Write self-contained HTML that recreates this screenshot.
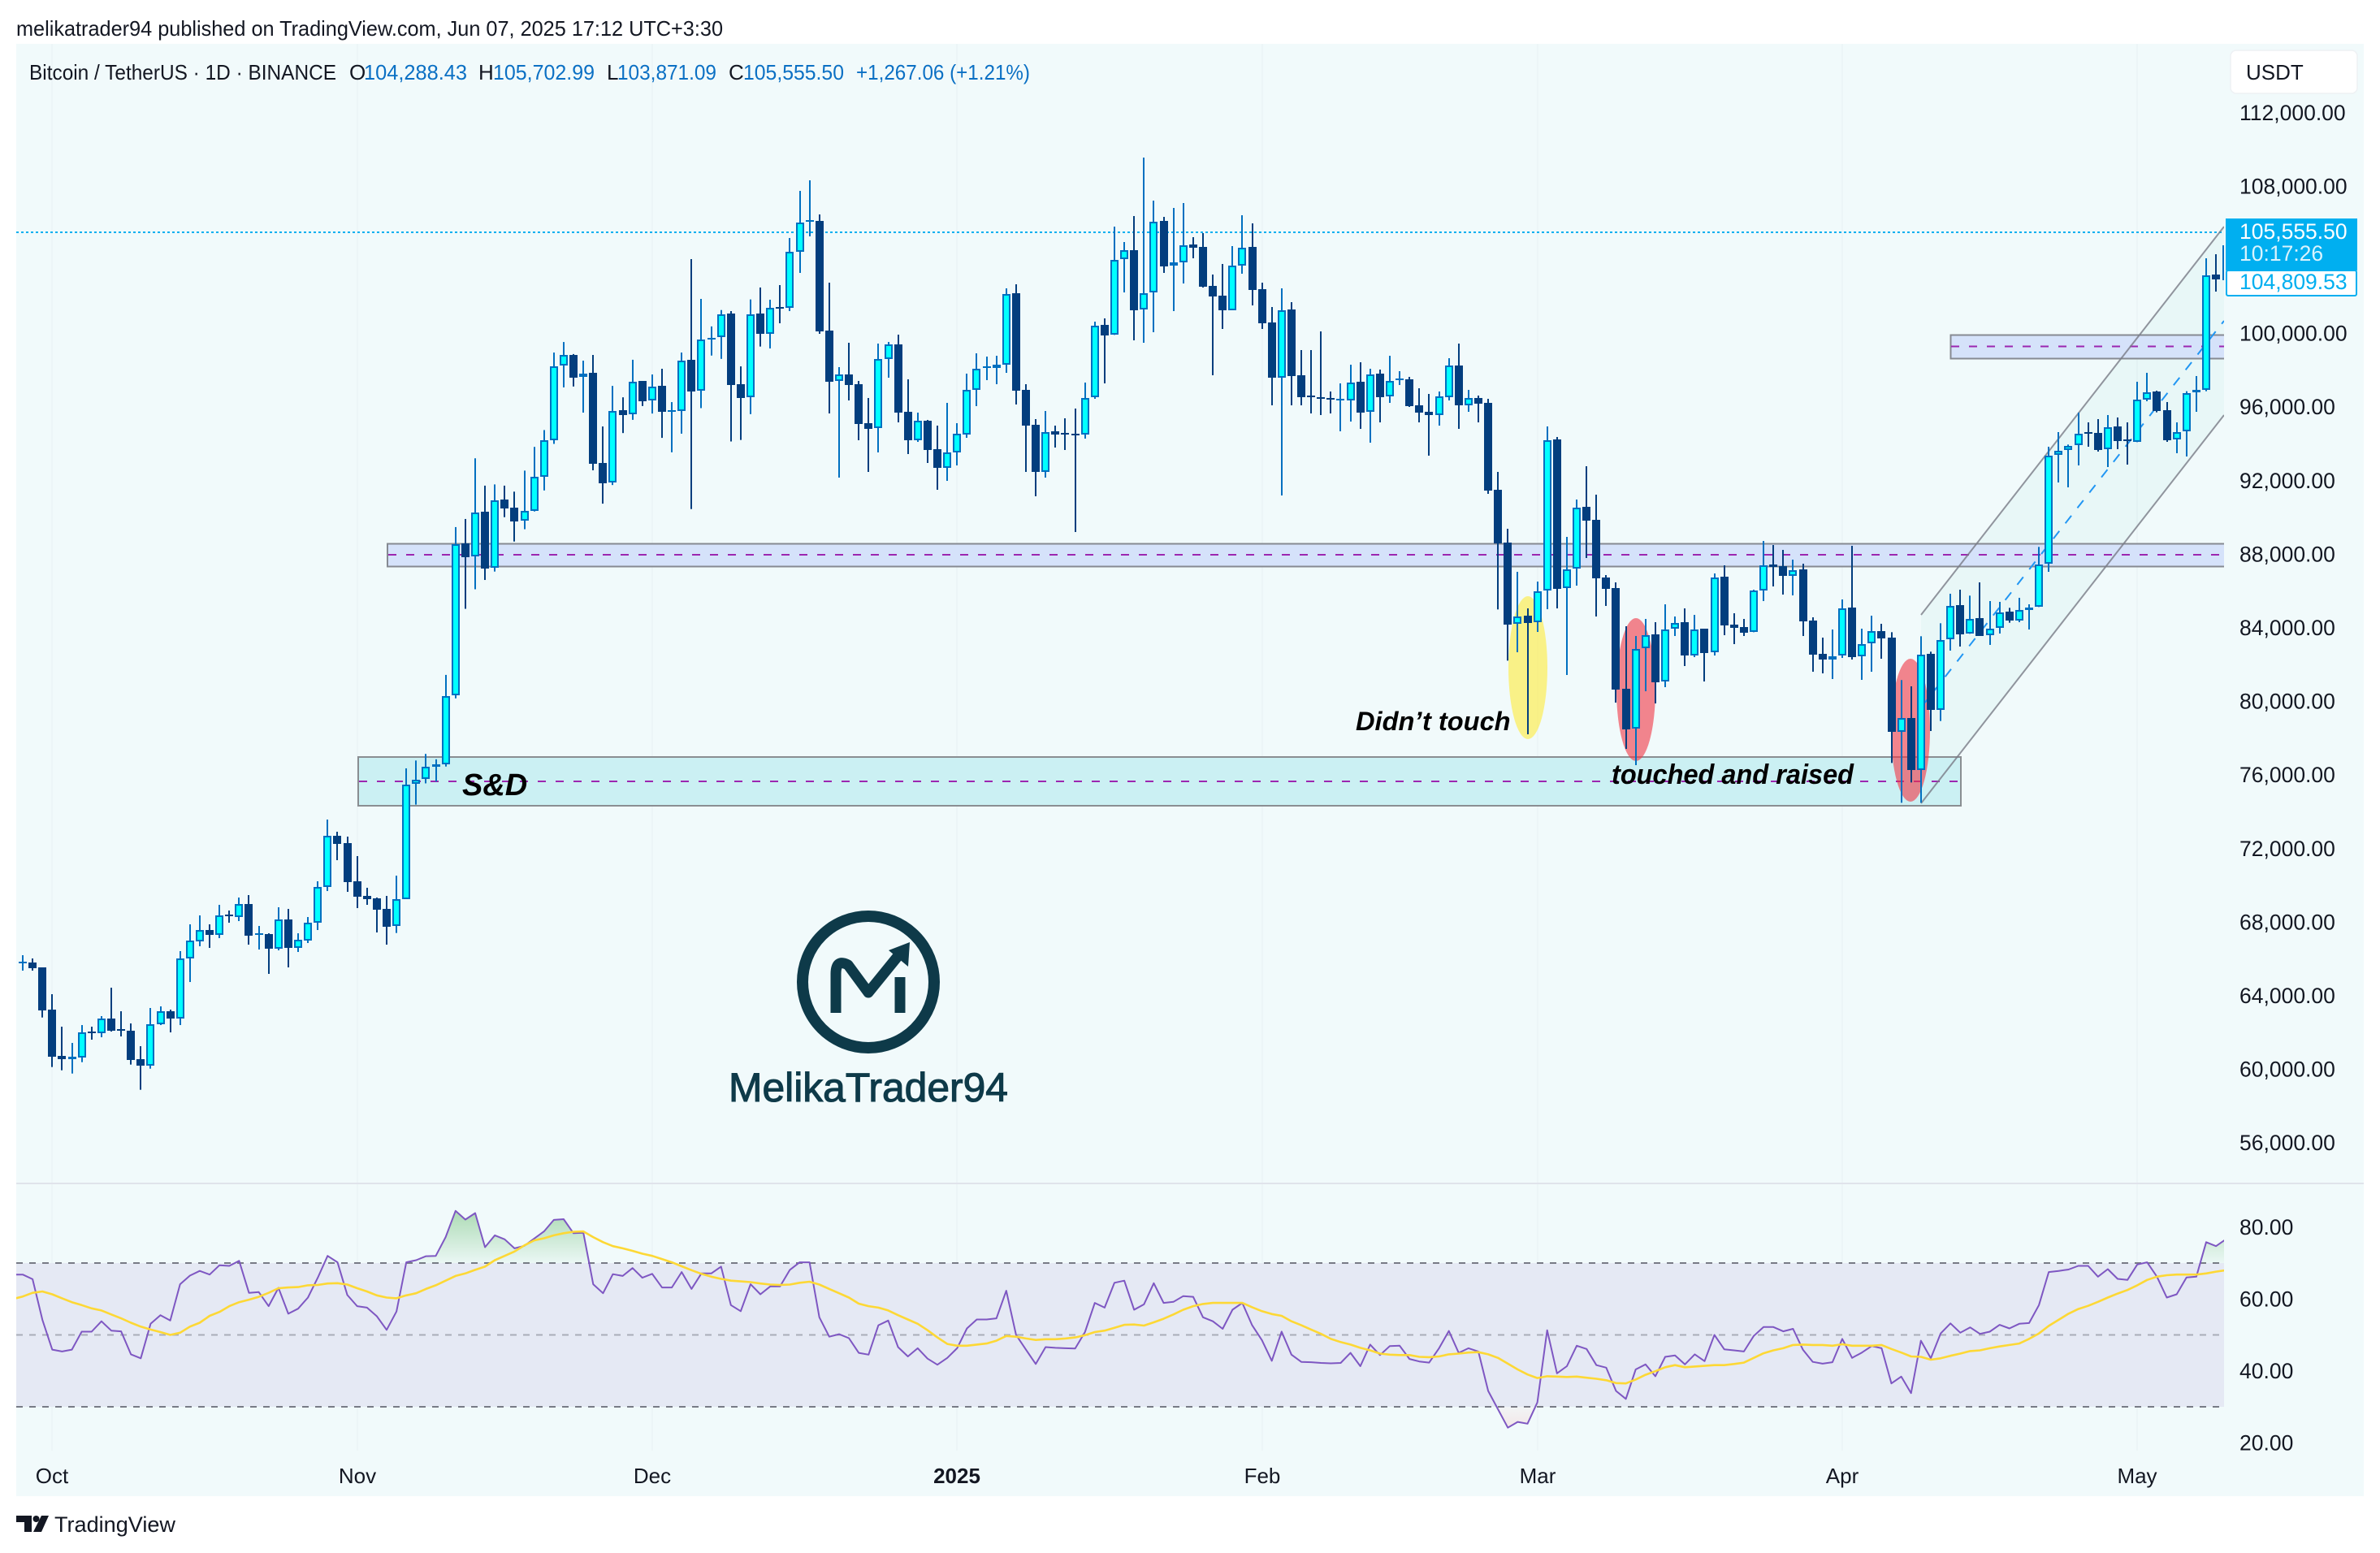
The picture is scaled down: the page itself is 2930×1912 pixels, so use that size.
<!DOCTYPE html>
<html lang="en">
<head>
<meta charset="utf-8">
<title>BTC/USDT 1D chart</title>
<style>
html,body{margin:0;padding:0;background:#fff;width:2930px;height:1912px;overflow:hidden}
svg{display:block;font-family:"Liberation Sans",Arial,sans-serif}
</style>
</head>
<body>
<svg id="chart" xmlns="http://www.w3.org/2000/svg" width="2930" height="1912" viewBox="0 0 2930 1912">
  <defs>
    <clipPath id="mainClip"><rect x="20" y="54" width="2718" height="1403"/></clipPath>
    <clipPath id="rsiClip"><rect x="20" y="1458" width="2718" height="330"/></clipPath>
    <clipPath id="obClip"><rect x="20" y="1458" width="2718" height="97"/></clipPath>
    <clipPath id="osClip"><rect x="20" y="1732" width="2718" height="56"/></clipPath>
    <linearGradient id="obGrad" gradientUnits="userSpaceOnUse" x1="0" y1="1490" x2="0" y2="1555">
      <stop offset="0" stop-color="#4caf50" stop-opacity="0.42"/>
      <stop offset="1" stop-color="#4caf50" stop-opacity="0.04"/>
    </linearGradient>
    <linearGradient id="osGrad" gradientUnits="userSpaceOnUse" x1="0" y1="1732" x2="0" y2="1770">
      <stop offset="0" stop-color="#ff5252" stop-opacity="0.03"/>
      <stop offset="1" stop-color="#ff5252" stop-opacity="0.16"/>
    </linearGradient>
  </defs>

  <text x="20" y="44" font-size="26" fill="#131722" textLength="870" lengthAdjust="spacingAndGlyphs">melikatrader94 published on TradingView.com, Jun 07, 2025 17:12 UTC+3:30</text>

  <rect x="20" y="54" width="2890" height="1788" fill="#f1fafb"/>
  <g id="grid"></g>
  <rect x="20" y="1456" width="2890" height="2" fill="#e0e3eb"/>

  <!-- Main pane drawings -->
  <g clip-path="url(#mainClip)">
    <polygon points="2365,757 2738,279 2738,511 2365,989" fill="#00b496" fill-opacity="0.035"/>

    <rect x="441" y="932" width="1973" height="60" fill="#cbf0f3" stroke="#8a8e92" stroke-width="2"/>
    <line x1="442" y1="962" x2="2412" y2="962" stroke="#9c27b0" stroke-width="2" stroke-dasharray="10 12"/>

    <rect x="477" y="669.5" width="2262" height="28" fill="#d5e2fa" stroke="#868a92" stroke-width="2"/>
    <line x1="478" y1="683" x2="2738" y2="683" stroke="#9c27b0" stroke-width="2" stroke-dasharray="10 12"/>

    <rect x="2401.5" y="412.5" width="338" height="29" fill="#d5e2fa" stroke="#868a92" stroke-width="2"/>
    <line x1="2402" y1="426.5" x2="2738" y2="426.5" stroke="#9c27b0" stroke-width="2" stroke-dasharray="10 12"/>

    <line x1="20" y1="286" x2="2738" y2="286" stroke="#00b0f0" stroke-width="2" stroke-dasharray="3 3"/>

    <ellipse cx="1881" cy="822" rx="24" ry="88" fill="#ffeb3b" fill-opacity="0.6"/>
    <ellipse cx="2014" cy="849" rx="24" ry="88" fill="#f23645" fill-opacity="0.6"/>
    <ellipse cx="2352" cy="899" rx="24" ry="88" fill="#f23645" fill-opacity="0.6"/>

    <line x1="2365" y1="757" x2="2738" y2="279" stroke="#787b86" stroke-opacity="0.8" stroke-width="2"/>
    <line x1="2365" y1="989" x2="2738" y2="511" stroke="#787b86" stroke-opacity="0.8" stroke-width="2"/>
    <line x1="2365" y1="871" x2="2738" y2="395" stroke="#2196f3" stroke-width="2" stroke-dasharray="12 12"/>

    <g id="candles"></g>

    <g fill="none" stroke="#0e3a49" stroke-linecap="butt">
      <circle cx="1069" cy="1209" r="81" stroke-width="14"/>
      <path d="M1029 1247 L1029 1199 Q1029 1180 1044 1188 L1069 1222 L1108 1174" stroke-width="13" stroke-linejoin="round"/>
      <path d="M1108 1203 L1108 1247" stroke-width="13"/>
    </g>
    <polygon points="1120,1160 1118,1190 1094,1170" fill="#0e3a49"/>
    <text x="1069" y="1356" font-size="50" fill="#0e3a49" stroke="#0e3a49" stroke-width="1.1" text-anchor="middle" textLength="344" lengthAdjust="spacingAndGlyphs">MelikaTrader94</text>

    <text x="569" y="979" font-size="38" font-weight="bold" font-style="italic" fill="#000">S&amp;D</text>
    <text x="1669" y="899" font-size="32.6" font-weight="bold" font-style="italic" fill="#000">Didn’t touch</text>
    <text x="1984" y="965" font-size="34" font-weight="bold" font-style="italic" fill="#000" textLength="298" lengthAdjust="spacingAndGlyphs">touched and raised</text>
  </g>

  <!-- RSI pane -->
  <g id="rsiPane">
    <rect x="20" y="1555" width="2718" height="177" fill="#e5e9f4"/>
    <line x1="20" y1="1555" x2="2738" y2="1555" stroke="#787b86" stroke-width="2" stroke-dasharray="8 8"/>
    <line x1="20" y1="1643.5" x2="2738" y2="1643.5" stroke="#a9adb8" stroke-width="2" stroke-dasharray="8 8"/>
    <line x1="20" y1="1732" x2="2738" y2="1732" stroke="#787b86" stroke-width="2" stroke-dasharray="8 8"/>
  </g>

  <!-- Legend -->
  <g font-size="26">
    <text x="36" y="98" fill="#131722" textLength="378" lengthAdjust="spacingAndGlyphs">Bitcoin / TetherUS · 1D · BINANCE</text>
    <text x="430" y="98" fill="#131722">O</text>
    <text x="448" y="98" fill="#0b70c4" textLength="127" lengthAdjust="spacingAndGlyphs">104,288.43</text>
    <text x="589" y="98" fill="#131722">H</text>
    <text x="607" y="98" fill="#0b70c4" textLength="125" lengthAdjust="spacingAndGlyphs">105,702.99</text>
    <text x="747" y="98" fill="#131722">L</text>
    <text x="760" y="98" fill="#0b70c4" textLength="122" lengthAdjust="spacingAndGlyphs">103,871.09</text>
    <text x="897" y="98" fill="#131722">C</text>
    <text x="915" y="98" fill="#0b70c4" textLength="124" lengthAdjust="spacingAndGlyphs">105,555.50</text>
    <text x="1054" y="98" fill="#0b70c4" textLength="214" lengthAdjust="spacingAndGlyphs">+1,267.06 (+1.21%)</text>
  </g>

  <!-- Right axis -->
  <g id="yAxis" font-size="26.5" fill="#131722"></g>
  <g>
    <rect x="2746" y="62" width="156" height="53" rx="7" fill="#fff" stroke="#eef1f4" stroke-width="1.5"/>
    <text x="2765" y="98" font-size="26" fill="#131722">USDT</text>
  </g>
  <rect x="2740" y="269" width="162" height="64" fill="#00aff0"/>
  <text x="2757" y="294" font-size="26.5" fill="#fff">105,555.50</text>
  <text x="2757" y="321" font-size="26.5" fill="#d9f3fd">10:17:26</text>
  <rect x="2741" y="333" width="160" height="31" rx="2" fill="#fff" stroke="#00aff0" stroke-width="2"/>
  <text x="2757" y="356" font-size="26.5" fill="#00aff0">104,809.53</text>

  <g id="xAxis" font-size="26" fill="#131722"></g>

  <g fill="#131722">
    <path d="M20 1866h19v20h-9v-12h-10z"/>
    <circle cx="44.5" cy="1870" r="4"/>
    <path d="M51 1866h9l-9 20h-10z"/>
    <text x="67" y="1886" font-size="27" textLength="149" lengthAdjust="spacingAndGlyphs">TradingView</text>
  </g>
</svg>

<script>
const priceTicks = [112000,108000,104000,100000,96000,92000,88000,84000,80000,76000,72000,68000,64000,60000,56000];
const rsiTicks = [80,60,40,20];
const monthLabels = ["Oct","Nov","Dec","2025","Feb","Mar","Apr","May"];
const monthBarIndex = [3,34,64,95,126,154,185,215];
const opens = [65830,65858,65593,63297,60781,60619,60707,62105,62032,62811,
62238,62149,60604,60266,62517,63209,62826,66064,67021,67624,
67374,68463,68345,69037,67374,67403,66623,68198,66667,67065,
68007,69949,72746,72348,70273,69478,69346,68772,67838,69316,
75564,75825,76511,76641,80381,88644,87925,90359,87321,91028,
90587,89869,90424,92269,94262,98295,98883,97675,97903,93004,
91943,95862,95650,97462,96401,97185,95829,95829,98622,96923,
99748,99854,101135,97299,96580,101135,100016,101488,101429,104475,
106153,106168,100207,97455,97823,97293,95174,94895,98647,99457,
95792,94262,95306,93761,92761,93570,94571,96969,98206,98191,
98338,102238,96984,95086,92540,94733,94644,94600,94556,96572,
100516,99972,104078,104578,101340,102268,106168,103725,103901,104887,
104755,102635,102106,101326,103725,104755,102459,100649,97661,101355,
97779,96675,96587,96543,96425,96425,97426,95777,97867,96616,
97544,97558,96145,95792,95630,96601,98309,96160,96543,96278,
91554,88670,84254,84695,84357,86064,94291,86196,87256,90626,
89920,86785,86211,80736,78558,82929,83695,81119,83989,84357,
82561,84004,82708,86829,84224,84092,83812,86064,87477,87403,
86888,87227,84445,82635,82341,82532,85151,82488,83194,83871,
83519,78412,79133,76308,82621,79575,83416,85270,83725,84564,
83636,84034,84917,84460,85034,85182,87522,93438,93703,93968,
94674,94630,93747,94983,94292,94144,96470,96897,95866,94292,
94733,96838,96999,103239];
const highs = [66255,66079,65593,64136,62370,61487,62458,62370,62944,64489,
63209,62547,61310,63386,63474,63297,66476,67933,68419,67933,
68993,68684,69390,69523,67845,67447,68860,68772,67447,68330,
70273,73629,72966,72701,71642,69920,69390,69478,70578,76412,
76838,77197,76903,81492,89526,89967,93265,91779,91845,91779,
91453,92596,93886,94800,99014,99585,98932,98573,98883,94996,
97201,96580,98622,97462,97822,98132,96319,99014,104093,101930,
100434,101324,101267,98262,101900,102550,101885,102680,105240,107801,
108375,106521,102812,98221,99545,97470,96543,99501,99589,99987,
97558,95748,95351,95042,96278,95174,97867,98971,98794,98839,
102503,102724,97293,95395,95836,95042,95439,95969,97382,100693,
100870,105859,105020,106433,109611,107271,106388,106874,107139,105285,
105505,103254,103828,104799,106477,106035,102812,101488,102503,101752,
99148,99148,100163,96896,97337,98353,98485,98132,98088,98838,
98000,97691,97072,96763,96896,98706,99501,96984,96675,96499,
92525,89435,87094,85107,86564,94997,94423,88993,91024,92834,
91289,86918,86520,84136,83606,84533,84357,85328,84666,85107,
84754,84004,87006,87447,84842,84533,86123,88772,88551,88286,
87757,87536,84622,83518,83959,85593,88507,84004,84710,84269,
83813,81209,80870,83593,82754,84299,85903,86124,85800,86521,
85505,85461,85137,85682,85329,88449,93894,94689,94012,95749,
95219,95395,95616,95484,95219,97426,97912,96941,96323,95219,
96911,97736,104137,104358];
const lows = [65417,65417,62870,60177,60000,59824,60442,61664,61796,62105,
61840,60310,58941,60089,62458,62061,62458,64798,66741,66653,
67183,68021,68110,66829,66565,65240,66520,65593,66432,66918,
67624,69743,71421,69699,68816,68993,67492,66829,67464,69316,
74441,75596,75694,76511,80217,85084,86146,86652,87109,90065,
88742,89411,90375,91518,94049,97119,97168,95748,92612,90800,
91812,94637,95356,96107,95699,94376,93592,94604,90506,95993,
98850,98670,94180,94262,95666,99340,99236,100605,101267,103342,
105329,100031,95704,92216,96410,94247,92525,93585,97647,95218,
93496,94158,93011,91554,92039,92878,94379,96101,97514,97293,
97911,96190,92525,91201,92216,93850,93717,89258,94335,96499,
97337,99972,102282,99677,99545,100119,103342,101267,102768,104137,
102547,97779,100296,101326,103298,101576,100296,96145,91245,96145,
96145,95704,95616,95704,94733,95262,94865,94114,95218,96278,
97249,96057,95218,93408,95041,96410,94865,95792,95218,91333,
85050,82268,82723,78264,83827,85063,85107,81487,86344,87845,
84666,85240,79986,77469,76586,80604,79941,80825,83606,81973,
82458,81134,82546,83650,83165,83606,83812,85505,86300,85858,
85814,83606,81663,81575,81267,82414,82326,81222,81663,82370,
76705,74542,75646,74542,78442,78986,82812,83033,83725,83622,
83122,83740,84328,84357,83960,85182,87095,91951,91687,92879,
93894,93630,92790,93762,92923,94144,96367,95763,94159,93541,
93364,95793,96911,102327];
const closes = [65890,65564,63268,60751,60619,60736,62046,62032,62797,62149,
62164,60575,60266,62517,63194,62826,66064,67035,67609,67359,
68404,68389,69022,67330,67447,66609,68183,66667,67080,68007,
69949,72731,72304,70229,69434,69302,68728,67801,69316,75525,
75809,76478,76641,80348,88595,87909,90326,87288,90996,90555,
89852,90424,92269,94262,98279,98867,97642,97871,92972,91926,
95846,95633,97430,96384,97168,95813,95862,98589,96907,99732,
99830,101108,97266,96548,101108,100010,101429,101399,104475,106065,
106197,100163,97426,97808,97249,95130,94865,98647,99442,95748,
94247,95292,93717,92746,93570,94585,96969,98147,98250,98353,
102209,96940,95042,92525,94703,94571,94571,94541,96558,100487,
99957,104063,104564,101311,102253,106138,103710,103901,104858,104711,
102591,102062,101311,103725,104725,102415,100605,97646,101326,97735,
96587,96601,96499,96469,96484,97396,95748,97838,96587,97485,
97602,96101,95748,95615,96616,98294,96145,96528,96234,91510,
88640,84226,84681,84313,86049,94261,86167,87241,90597,89890,
86741,86167,80692,78529,82915,83665,81090,83974,84327,82546,
83974,82679,86800,84180,84048,83783,86064,87462,87374,86873,
87197,84401,82591,82326,82517,85122,82458,83180,83856,83474,
78412,79133,76308,82607,79575,83401,85256,83710,84549,83622,
84019,84902,84446,85034,85167,87507,93425,93688,93953,94615,
94601,93703,94954,94203,94218,96470,96867,95837,94248,94703,
96823,96999,103210,102974];
const currentBarHigh = 104844;
const currentBarLow = 102945;
const rsiValues = [66.8,65.5,54.2,45.9,45.4,45.9,50.9,50.9,53.8,51.2,
51.0,44.6,43.5,53.1,55.5,54.0,64.1,66.5,67.8,66.8,
69.4,69.2,70.6,61.7,61.9,58.0,63.1,55.9,57.3,60.4,
65.9,72.0,70.2,61.1,58.0,57.6,55.2,51.4,56.5,70.2,
70.8,71.9,72.0,77.2,84.5,82.1,83.9,74.4,77.7,76.6,
74.1,74.8,76.8,78.8,82.0,82.2,78.3,78.4,64.1,61.6,
66.9,66.4,68.6,65.9,67.0,63.2,63.2,67.5,62.8,67.1,
67.1,69.0,58.3,56.6,64.1,61.3,63.5,63.5,68.1,70.2,
70.2,54.9,49.5,50.2,49.1,45.0,44.5,52.7,54.0,46.6,
44.0,46.3,43.4,41.7,43.6,46.3,51.8,54.3,54.3,54.6,
62.3,50.0,45.9,41.9,46.6,46.4,46.3,46.2,50.8,58.9,
57.6,64.5,65.1,57.0,58.5,64.4,58.9,59.2,60.8,60.6,
54.9,53.8,51.7,57.0,58.9,52.7,48.5,42.8,50.9,44.5,
42.5,42.4,42.2,42.1,42.2,45.0,41.3,47.3,44.4,46.9,
47.0,43.3,42.6,42.3,46.3,51.1,45.0,46.3,45.4,34.4,
29.3,24.2,25.8,25.3,31.2,51.3,39.3,41.3,47.0,46.1,
41.6,40.9,34.4,32.2,40.4,41.8,38.5,43.9,44.3,41.8,
44.6,42.7,50.0,46.0,45.7,45.4,49.7,52.2,52.2,51.0,
51.7,45.9,42.5,42.0,42.4,48.9,43.6,45.1,46.9,46.3,
36.5,38.4,33.8,48.4,43.5,50.4,53.2,50.6,52.1,50.3,
50.9,52.8,51.8,53.1,53.3,58.3,67.5,67.8,68.2,69.2,
69.2,66.2,68.3,65.6,65.3,69.6,70.2,66.2,60.4,61.3,
66.0,66.2,75.8,74.7,76.6];
const rsiMaValues = [60.7,61.7,62.1,61.3,60.2,59.1,58.3,57.4,56.8,55.7,
54.6,53.4,52.3,51.5,50.8,50.0,50.6,52.3,53.4,55.3,
56.4,58.0,59.1,59.8,60.6,61.7,63.0,63.2,63.3,63.8,
63.9,64.3,64.4,64.0,63.0,62.1,61.0,60.4,60.2,61.0,
61.6,62.8,63.8,65.1,66.4,67.1,68.1,69.0,70.8,72.0,
73.2,74.9,76.3,76.9,77.7,78.3,78.7,78.8,77.2,75.8,
74.7,74.1,73.4,72.6,72.0,71.1,70.2,69.1,68.0,67.0,
66.2,65.6,65.1,64.9,64.7,64.3,64.0,63.9,64.0,64.5,
64.8,64.0,62.8,61.6,60.4,58.7,58.0,57.6,56.8,55.5,
54.3,53.1,51.3,49.3,47.5,47.0,47.0,47.3,47.6,48.4,
49.7,49.5,49.0,48.6,48.8,48.8,49.0,49.3,49.9,50.8,
51.2,52.0,52.8,52.9,52.6,53.5,54.5,55.7,57.0,58.0,
58.6,58.9,58.9,58.9,58.9,57.7,56.6,55.8,55.3,53.8,
52.7,51.5,50.3,48.9,48.0,47.3,46.4,45.7,44.8,44.5,
44.4,44.4,43.9,43.8,44.0,44.6,44.8,45.1,45.2,44.6,
43.6,42.0,40.4,39.0,38.0,38.5,38.4,38.3,38.4,38.1,
37.8,37.4,36.6,36.5,37.6,38.9,39.9,41.0,41.6,41.0,
41.2,41.4,41.6,41.6,41.9,42.3,43.6,44.9,45.7,46.3,
47.2,47.3,47.2,47.2,47.0,47.4,47.0,47.0,47.0,47.2,
46.1,45.1,44.0,43.9,43.1,43.5,44.2,44.8,45.5,45.7,
46.3,46.8,47.2,47.6,48.9,50.4,52.5,54.2,55.9,57.2,
58.1,59.2,60.4,61.5,62.5,63.8,65.3,66.2,66.6,66.8,
66.8,66.8,67.1,67.6,68.0];
const rsiLeadValue = 66.8;
const rsiMaLeadValue = 60.0;

const NS = "http://www.w3.org/2000/svg";
const UP_FILL = "#00ffff", UP_EDGE = "#0070c0", DOWN_COLOR = "#033e7e";
const xScale = i => 28 + 12.108 * i;
const yPrice = p => 683.5 - 0.02265 * (p - 88000);
const yRsi = v => 1555 + (70 - v) * 4.425;
const fmtPrice = p => p.toLocaleString("en-US", {minimumFractionDigits: 2, maximumFractionDigits: 2});

function make(tag, props, parent) {
  const el = document.createElementNS(NS, tag);
  for (const k in props) el.setAttribute(k, props[k]);
  parent.appendChild(el);
  return el;
}

const svgRoot = document.getElementById("chart");
const gridG = document.getElementById("grid");
const candlesG = document.getElementById("candles");
const rsiG = document.getElementById("rsiPane");
const yAxisG = document.getElementById("yAxis");
const xAxisG = document.getElementById("xAxis");

monthBarIndex.forEach((idx, n) => {
  const x = Math.round(xScale(idx));
  const grid = make("line", {x1: x, x2: x, y1: 54, y2: 1786, stroke: "#ecf5f7", "stroke-width": 2}, gridG);
  
  
  const label = make("text", {x: x, y: 1826, "text-anchor": "middle"}, xAxisG);
  
  
  if (monthLabels[n] === "2025") label.setAttribute("font-weight", "bold");
  label.textContent = monthLabels[n];
});

priceTicks.forEach(p => {
  const label = make("text", {x: 2757, y: yPrice(p) - 1.5 + 9.4}, yAxisG);
  
  
  label.textContent = fmtPrice(p);
});

rsiTicks.forEach(v => {
  const label = make("text", {x: 2757, y: yRsi(v) + 9.4}, yAxisG);
  
  
  label.textContent = v.toFixed(2);
});

opens.forEach((o, i) => {
  const c = closes[i];
  const up = c >= o;
  const edge = up ? UP_EDGE : DOWN_COLOR;
  const cx = Math.round(xScale(i));
  const g = make("g", {}, candlesG);
  
  
  const wick = make("rect", {x: cx - 1, y: yPrice(highs[i]), width: 2, height: Math.max(1, yPrice(lows[i]) - yPrice(highs[i])), fill: edge}, g);
  
  
  const top = Math.round(yPrice(Math.max(o, c)));
  const h = Math.max(2, Math.round(yPrice(Math.min(o, c))) - top);
  const edgeRect = make("rect", {x: cx - 5, y: top, width: 10, height: h, fill: edge}, g);
  
  
  if (up && h > 4) {
    const fill = make("rect", {x: cx - 3, y: top + 2, width: 6, height: h - 4, fill: UP_FILL}, g);
    
    
  }
});

const currentWick = make("rect", {
  x: Math.round(xScale(opens.length - 1)) + 8,
  y: yPrice(currentBarHigh),
  width: 2,
  height: yPrice(currentBarLow) - yPrice(currentBarHigh),
  fill: UP_EDGE
}, candlesG);



const rsiPts = [[xScale(-1), yRsi(rsiLeadValue)]].concat(rsiValues.map((v, i) => [xScale(i), yRsi(v)]));
const maPts = [[xScale(-1), yRsi(rsiMaLeadValue)]].concat(rsiMaValues.map((v, i) => [xScale(i), yRsi(v)]));
const toPath = pts => pts.map((p, i) => (i ? "L" : "M") + p[0].toFixed(1) + " " + p[1].toFixed(1)).join(" ");
const lastX = rsiPts[rsiPts.length - 1][0].toFixed(1);
const firstX = rsiPts[0][0].toFixed(1);

const obFill = make("path", {
  d: toPath(rsiPts) + " L" + lastX + " " + yRsi(70) + " L" + firstX + " " + yRsi(70) + " Z",
  fill: "url(#obGrad)", "clip-path": "url(#obClip)"
}, rsiG);



const osFill = make("path", {
  d: toPath(rsiPts) + " L" + lastX + " " + yRsi(30) + " L" + firstX + " " + yRsi(30) + " Z",
  fill: "url(#osGrad)", "clip-path": "url(#osClip)"
}, rsiG);



const rsiLine = make("path", {
  d: toPath(rsiPts), fill: "none", stroke: "#7e57c2", "stroke-width": 2, "stroke-linejoin": "round", "clip-path": "url(#rsiClip)"
}, rsiG);



const maLine = make("path", {
  d: toPath(maPts), fill: "none", stroke: "#fdd835", "stroke-width": 2.6, "stroke-linejoin": "round", "clip-path": "url(#rsiClip)"
}, rsiG);


</script>
</body>
</html>
